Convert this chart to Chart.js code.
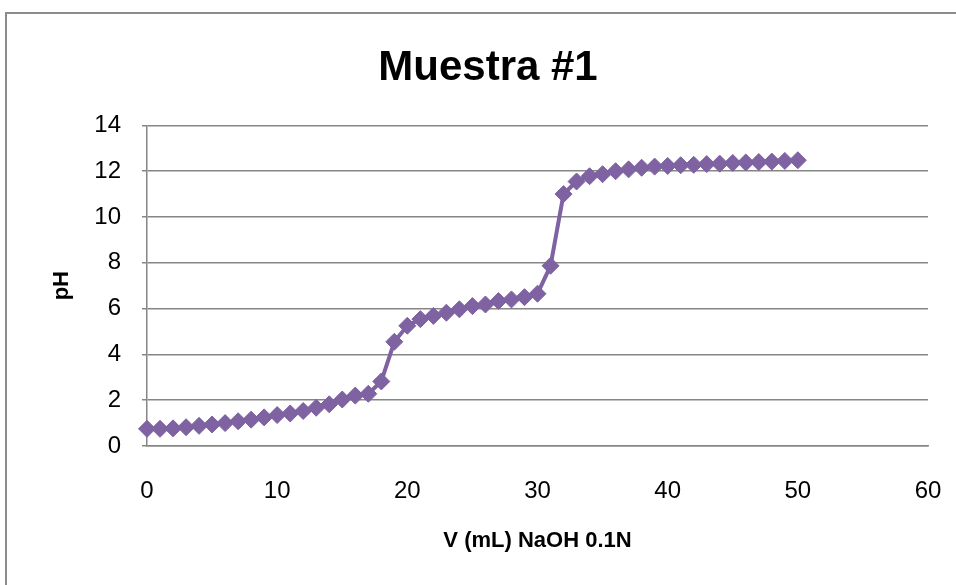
<!DOCTYPE html>
<html>
<head>
<meta charset="utf-8">
<script src="https://cdn.jsdelivr.net/npm/chart.js@4/dist/chart.umd.min.js"></script>
<style>
  html, body { margin: 0; padding: 0; background: #ffffff; overflow: hidden; }
  #frame { position: absolute; left: 5px; top: 12px; width: 1000px; height: 700px;
           border-left: 2px solid #8c8c8c; border-top: 2px solid #8c8c8c; box-sizing: border-box; }
  #chart { position: absolute; left: 0; top: 0; }
</style>
</head>
<body>
<div id="frame"></div>
<canvas id="chart" width="956" height="585"></canvas>
<script>
// Titration of sample #1: volume of 0.1 N NaOH added (mL) vs. measured pH
const volumes = [0, 1, 2, 3, 4, 5, 6, 7, 8, 9, 10, 11, 12, 13, 14, 15, 16, 17, 18, 19, 20,
  21, 22, 23, 24, 25, 26, 27, 28, 29, 30, 31, 32, 33, 34, 35, 36, 37, 38, 39, 40,
  41, 42, 43, 44, 45, 46, 47, 48, 49, 50];
const ph = [0.75, 0.75, 0.77, 0.82, 0.88, 0.94, 1.0, 1.08, 1.15, 1.25, 1.35,
  1.42, 1.53, 1.67, 1.82, 2.03, 2.2, 2.28, 2.82, 4.55, 5.25,
  5.54, 5.68, 5.82, 5.97, 6.11, 6.18, 6.33, 6.4, 6.5, 6.65,
  7.87, 11.0, 11.55, 11.78, 11.87, 12.0, 12.08, 12.15, 12.2, 12.23,
  12.26, 12.28, 12.31, 12.33, 12.36, 12.38, 12.4, 12.42, 12.45, 12.48];
const xTicks = [0, 10, 20, 30, 40, 50, 60];
const yTicks = [0, 2, 4, 6, 8, 10, 12, 14];

const chartTitle = 'Muestra #1';
const xTitle = 'V (mL) NaOH 0.1N';
const yTitle = 'pH';

const purple = '#7E62A1';
const gridGray = '#868686';
const fontFamily = '"Liberation Sans", Arial, sans-serif';

const points = volumes.map((v, i) => ({ x: v, y: ph[i] }));

new Chart(document.getElementById('chart'), {
  type: 'scatter',
  data: {
    datasets: [{
      data: points,
      showLine: true,
      borderColor: purple,
      backgroundColor: purple,
      borderWidth: 4,
      pointStyle: 'rectRot',
      pointRadius: 8.5,
      pointBorderWidth: 1,
      pointBorderColor: purple,
      pointBackgroundColor: purple,
      tension: 0,
      clip: false
    }]
  },
  options: {
    responsive: false,
    animation: false,
    devicePixelRatio: 1,
    layout: { autoPadding: false, padding: { left: 48, right: 28, top: 0, bottom: 0 } },
    plugins: {
      legend: { display: false },
      tooltip: { enabled: false },
      title: {
        display: true,
        text: chartTitle,
        color: '#000000',
        font: { family: fontFamily, size: 42, weight: 'bold' },
        padding: { top: 43, bottom: 32 }
      }
    },
    scales: {
      x: {
        type: 'linear',
        min: xTicks[0],
        max: xTicks[xTicks.length - 1],
        afterBuildTicks: (s) => { s.ticks = xTicks.map(v => ({ value: v })); },
        afterFit: (s) => { s.height = 139; s.paddingLeft = 0; s.paddingRight = 0; },
        grid: { display: false },
        border: { display: true, color: gridGray, width: 1.5 },
        ticks: {
          color: '#000000',
          padding: 23,
          font: { family: fontFamily, size: 24 }
        },
        title: {
          display: true,
          text: xTitle,
          color: '#000000',
          font: { family: fontFamily, size: 22, weight: 'bold' },
          padding: { top: 0, bottom: 31 }
        }
      },
      y: {
        type: 'linear',
        min: yTicks[0],
        max: yTicks[yTicks.length - 1],
        afterBuildTicks: (s) => { s.ticks = yTicks.map(v => ({ value: v })); },
        afterFit: (s) => { s.width = 99; },
        grid: { color: gridGray, lineWidth: 1.5, tickLength: 5, tickColor: gridGray },
        border: { display: true, color: gridGray, width: 1.5 },
        ticks: {
          color: '#000000',
          padding: 21,
          font: { family: fontFamily, size: 24 }
        },
        title: {
          display: true,
          text: yTitle,
          color: '#000000',
          font: { family: fontFamily, size: 22, weight: 'bold' },
          padding: { top: 1, bottom: 0 }
        }
      }
    }
  }
});
</script>
</body>
</html>
